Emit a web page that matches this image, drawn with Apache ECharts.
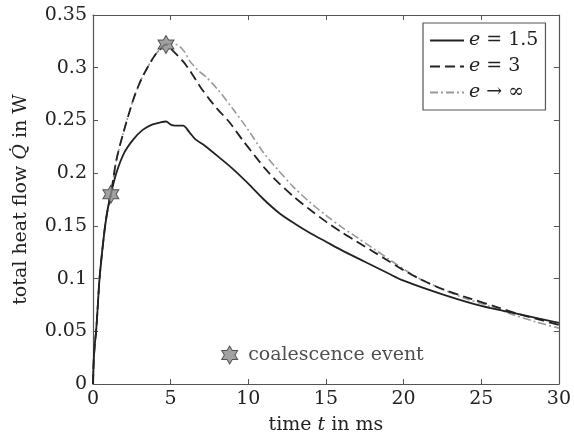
<!DOCTYPE html>
<html>
<head>
<meta charset="utf-8">
<script src="https://cdn.jsdelivr.net/npm/echarts@6/dist/echarts.min.js"></script>
<style>html,body{margin:0;padding:0;background:#fff}#c{width:574px;height:440px}</style>
</head>
<body>
<div id="c"></div>
<script>
// shared initial rise (all three cases coincide)
const riseT = [0, 0.04, 0.1, 0.2, 0.3, 0.42, 0.6, 0.78, 0.95, 1.15];
const riseQ = [0, 0.02, 0.035, 0.05, 0.072, 0.1, 0.127, 0.15, 0.166, 0.18];

// e = 1.5 after first coalescence
const e15T = [1.5, 2, 2.6, 3.2, 3.8, 4.3, 4.7, 5.0, 5.3, 5.8, 6.2, 6.6, 7.2, 8.2, 9, 10, 11, 12, 13, 14, 15, 16, 17.5, 19, 20, 22.5, 25, 27.5, 30];
const e15Q = [0.2, 0.219, 0.232, 0.241, 0.246, 0.248, 0.249, 0.246, 0.245, 0.245, 0.239, 0.232, 0.226, 0.214, 0.204, 0.19, 0.175, 0.162, 0.152, 0.143, 0.135, 0.127, 0.116, 0.105, 0.098, 0.085, 0.074, 0.066, 0.058];

// e = 3 and e -> inf share this until the second coalescence
const e3riseT = [1.5, 1.95, 2.6, 3.05, 3.5, 4.0, 4.35, 4.7];
const e3riseQ = [0.212, 0.238, 0.27, 0.287, 0.3, 0.312, 0.318, 0.322];

const e3T = [5.15, 5.8, 6.25, 6.9, 7.5, 8, 8.8, 9.6, 10.5, 11.1, 11.8, 12.9, 14, 15, 16, 17, 18, 19, 20, 21, 22.5, 24.3, 26, 27.5, 29, 30];
const e3Q = [0.316, 0.306, 0.297, 0.282, 0.27, 0.261, 0.248, 0.232, 0.215, 0.204, 0.193, 0.178, 0.165, 0.154, 0.144, 0.135, 0.126, 0.117, 0.108, 0.1, 0.09, 0.081, 0.073, 0.066, 0.06, 0.056];

const einfT = [5.1, 5.5, 5.9, 6.25, 6.8, 7.3, 8.05, 9, 9.9, 11, 11.8, 12.9, 14, 15, 16, 17, 18, 19, 20, 21, 22.5, 24, 25.5, 27, 28.5, 30];
const einfQ = [0.323, 0.321, 0.315, 0.306, 0.297, 0.291, 0.279, 0.261, 0.243, 0.219, 0.205, 0.187, 0.172, 0.16, 0.149, 0.139, 0.129, 0.119, 0.109, 0.1, 0.09, 0.081, 0.074, 0.066, 0.059, 0.053];

// coalescence events
const starT = [1.15, 4.7];
const starQ = [0.18, 0.322];
// annotation marker
const noteT = [8.8];
const noteQ = [0.0275];

const names = ['e = 1.5', 'e = 3', 'e → ∞'];
const xTicks = { min: 0, max: 30, interval: 5 };
const yTicks = { min: 0, max: 0.35, interval: 0.05 };

const zip = (a, b) => a.map((v, i) => [v, b[i]]);
const s15 = zip(riseT.concat(e15T), riseQ.concat(e15Q));
const s3 = zip(riseT.concat(e3riseT, e3T), riseQ.concat(e3riseQ, e3Q));
const sInf = zip(riseT.concat(e3riseT, einfT), riseQ.concat(e3riseQ, einfQ));

const star = 'path://M0,-10 L2.887,-5 L8.66,-5 L5.774,0 L8.66,5 L2.887,5 L0,10 L-2.887,5 L-8.66,5 L-5.774,0 L-8.66,-5 L-2.887,-5 Z';
const FONT = 'DejaVu Serif';
const FS = 19;
const axisColor = '#555';

const chart = echarts.init(document.getElementById('c'), null, { renderer: 'canvas' });
const baseX = {
  type: 'value', min: xTicks.min, max: xTicks.max, interval: xTicks.interval,
  axisLine: { show: true, onZero: false, lineStyle: { color: axisColor, width: 1.2 } },
  axisTick: { show: true, inside: true, length: 5, lineStyle: { color: axisColor } },
  splitLine: { show: false }
};
const baseY = {
  type: 'value', min: yTicks.min, max: yTicks.max, interval: yTicks.interval,
  axisLine: { show: true, onZero: false, lineStyle: { color: axisColor, width: 1.2 } },
  axisTick: { show: true, inside: true, length: 5, lineStyle: { color: axisColor } },
  splitLine: { show: false }
};
const rich = {
  n: { fontFamily: FONT, fontSize: FS, color: '#222' },
  i: { fontFamily: FONT, fontStyle: 'italic', fontSize: FS, color: '#222' }
};
chart.setOption({
  animation: false,
  backgroundColor: '#fff',
  grid: { left: 93, right: 15, top: 15, bottom: 56 },
  legend: {
    orient: 'vertical', left: 423, top: 23,
    data: names,
    itemWidth: 34, itemHeight: 12, itemGap: 7,
    padding: [8, 7, 8, 6],
    borderColor: '#555', borderWidth: 1.2,
    backgroundColor: '#fff',
    itemStyle: { opacity: 0, borderWidth: 0 },
    textStyle: { fontFamily: FONT, fontSize: FS, color: '#222', rich: rich },
    formatter: function (n) { return '{i|e}{n|' + n.slice(1) + '}'; }
  },
  xAxis: [
    Object.assign({}, baseX, {
      position: 'bottom',
      name: '{n|time }{i|t}{n| in ms}', nameLocation: 'middle', nameGap: 32,
      nameTextStyle: { rich: rich },
      axisLabel: { fontFamily: FONT, fontSize: FS, color: '#222', margin: 6 }
    }),
    Object.assign({}, baseX, { position: 'top', axisLabel: { show: false } })
  ],
  yAxis: [
    Object.assign({}, baseY, {
      position: 'left',
      name: '{n|total heat flow }{i|Q̇}{n| in W}', nameLocation: 'middle', nameGap: 62, nameRotate: 90,
      nameTextStyle: { rich: rich },
      axisLabel: { fontFamily: FONT, fontSize: FS, color: '#222', margin: 6,
        formatter: function (v) { return String(+v.toFixed(2)); } }
    }),
    Object.assign({}, baseY, { position: 'right', axisLabel: { show: false } })
  ],
  series: [
    { name: names[2], type: 'line', data: sInf, symbol: 'none', smooth: 0.3, z: 2,
      lineStyle: { color: '#999', width: 1.6, type: [8, 3, 2, 3] }, itemStyle: { color: '#999' } },
    { name: names[1], type: 'line', data: s3, symbol: 'none', smooth: 0.3, z: 3,
      lineStyle: { color: '#222', width: 1.8, type: [10, 5] }, itemStyle: { color: '#222' } },
    { name: names[0], type: 'line', data: s15, symbol: 'none', smooth: 0.3, z: 4,
      lineStyle: { color: '#222', width: 1.8, type: 'solid' }, itemStyle: { color: '#222' } },
    { name: 'events', type: 'scatter', data: zip(starT, starQ), symbol: star, symbolSize: [16, 18], z: 6,
      itemStyle: { color: '#8a8a8a', borderColor: '#333', borderWidth: 1 } },
    { name: 'note', type: 'scatter', data: zip(noteT, noteQ), symbol: star, symbolSize: [16, 18], z: 6,
      itemStyle: { color: '#8a8a8a', borderColor: '#333', borderWidth: 1 },
      label: { show: true, position: 'right', distance: 10, formatter: 'coalescence event',
        fontFamily: FONT, fontSize: FS, color: '#222' } }
  ]
});
</script>
</body>
</html>
